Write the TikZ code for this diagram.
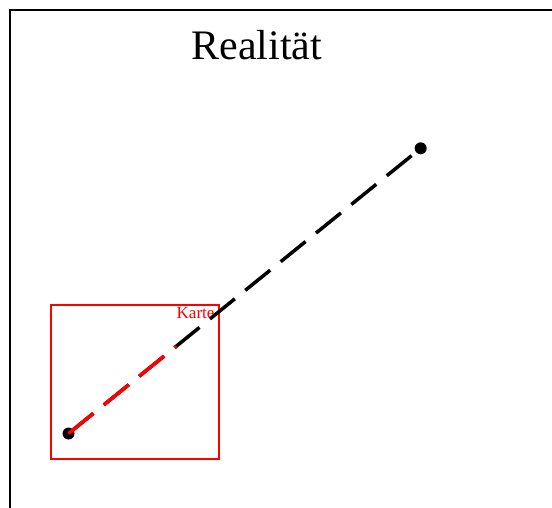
\documentclass[tikz,border=0pt]{standalone}
\usepackage{fontspec}
\setmainfont{Liberation Serif}
\usetikzlibrary{calc}
\begin{document}
\begin{tikzpicture}[x=1pt,y=-1pt,
  dot/.style={circle,fill=black,inner sep=0pt,minimum size=12pt},
  dashline/.style={line width=3.5pt,dash pattern=on 32pt off 13.5pt},
]
\useasboundingbox (0,0) rectangle (552,508);
\clip (0,0) rectangle (552,508);
\fill[white] (0,0) rectangle (552,508);
% outer frame
\draw[line width=2pt] (9.5,600) -- (9.5,10.5) -- (600,10.5);
% title
\node[anchor=base,inner sep=0pt,font=\fontsize{42}{50}\selectfont] (title) at (256.7,59.3) {Realität};
% map box
\draw[red,line width=2pt] (51,304.5) rectangle (218.5,458.5);
\node[anchor=base west,inner sep=0pt,text=red,font=\fontsize{17}{20}\selectfont] (karte) at (176.5,318.3) {Karte};
% points
\node[dot] (a) at (68.5,433.5) {};
\node[dot] (b) at (420.7,148.3) {};
\coordinate (m) at ($(a.center)!0.306!(b.center)$);
\draw[dashline,black] (a.center) -- (b.center);
\draw[dashline,red] (a.center) -- (m);
\end{tikzpicture}
\end{document}
